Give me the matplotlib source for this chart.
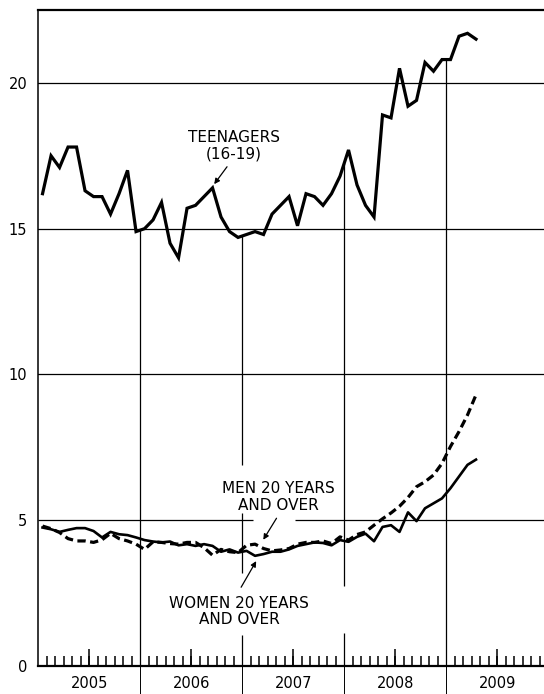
import numpy as np
import matplotlib.pyplot as plt

# monthly unemployment rates, Jan 2005 - Apr 2009
years = ["2005", "2006", "2007", "2008", "2009"]
teenagers = [16.2, 17.5, 17.1, 17.8, 17.8, 16.3, 16.1, 16.1, 15.5, 16.2, 17.0, 14.9,
             15.0, 15.3, 15.9, 14.5, 14.0, 15.7, 15.8, 16.1, 16.4, 15.4, 14.9, 14.7,
             14.8, 14.9, 14.8, 15.5, 15.8, 16.1, 15.1, 16.2, 16.1, 15.8, 16.2, 16.8,
             17.7, 16.5, 15.8, 15.4, 18.9, 18.8, 20.5, 19.2, 19.4, 20.7, 20.4, 20.8,
             20.8, 21.6, 21.7, 21.5]
men = [4.8, 4.71, 4.58, 4.37, 4.29, 4.29, 4.24, 4.33, 4.55, 4.37, 4.29, 4.18,
       4.0, 4.26, 4.24, 4.2, 4.18, 4.24, 4.24, 4.06, 3.8, 4.0, 3.92, 3.89,
       4.14, 4.18, 4.03, 3.95, 3.98, 4.03, 4.18, 4.24, 4.24, 4.29, 4.2, 4.43,
       4.32, 4.51, 4.6, 4.83, 5.05, 5.25, 5.48, 5.78, 6.15, 6.32, 6.55, 6.95,
       7.53, 8.04, 8.61, 9.3]
women = [4.75, 4.69, 4.6, 4.67, 4.73, 4.73, 4.63, 4.41, 4.6, 4.52, 4.49, 4.41,
         4.32, 4.27, 4.24, 4.27, 4.14, 4.18, 4.12, 4.18, 4.12, 3.92, 4.0, 3.89,
         3.95, 3.78, 3.84, 3.92, 3.92, 4.0, 4.12, 4.18, 4.24, 4.22, 4.14, 4.32,
         4.26, 4.43, 4.54, 4.28, 4.77, 4.83, 4.6, 5.27, 4.97, 5.41, 5.58, 5.75,
         6.1, 6.5, 6.9, 7.08]

months = np.arange(len(teenagers)) + 0.5  # month centres, 0 = start of Jan 2005
n_months = 59.5

plt.rcParams["font.family"] = "DejaVu Sans"
fig = plt.figure(figsize=(5.44, 6.94), dpi=100)
ax = fig.add_axes([0.0704, 0.0403, 0.9296, 0.9453])
ax.set_xlim(0, n_months)
ax.set_ylim(0, 22.5)

# horizontal rules (the 5 rule is broken under the men label arrow)
for v in [10, 15, 20]:
    ax.axhline(v, color="k", lw=0.9, zorder=1)
ax.hlines([5, 5], [0, 30.2], [25.3, n_months], color="k", lw=0.9, zorder=1)

# year dividers run up to the teenager line, with gaps around labels
gaps = {24: [(1.05, 3.2), (5.25, 6.9)], 36: [(1.15, 2.75)]}
for b in [12, 24, 36, 48]:
    top = np.interp(b, months, teenagers)
    lo = 0
    for g0, g1 in gaps.get(b, []):
        ax.vlines(b, lo, g0, color="k", lw=0.9, zorder=1)
        lo = g1
    ax.vlines(b, lo, top, color="k", lw=0.9, zorder=1)

ax.plot(months, teenagers, color="k", lw=2.3, solid_joinstyle="miter", zorder=3)
ax.plot(months, women, color="k", lw=1.9, zorder=3)
ax.plot(months, men, color="k", lw=2.3, dashes=(2.6, 1.4), zorder=3)

# labels
lbl = dict(ha="center", va="center", fontsize=11, linespacing=1.1)
arw = dict(arrowstyle="-|>", color="k", lw=0.9, mutation_scale=8)
ax.text(23.0, 17.85, "TEENAGERS\n(16-19)", **lbl)
ax.annotate("", xy=(20.5, 16.45), xytext=(22.4, 17.2), arrowprops=arw)
ax.text(28.2, 5.8, "MEN 20 YEARS\nAND OVER", **lbl)
ax.annotate("", xy=(26.3, 4.25), xytext=(28.2, 5.15), arrowprops=arw)
ax.text(23.6, 1.88, "WOMEN 20 YEARS\nAND OVER", **lbl)
ax.annotate("", xy=(25.8, 3.68), xytext=(23.7, 2.62), arrowprops=arw)

# axes styling
ax.spines["right"].set_visible(False)
ax.spines["top"].set_linewidth(1.6)
ax.spines["bottom"].set_linewidth(1.6)
ax.spines["left"].set_linewidth(1.1)

ax.set_yticks([0, 5, 10, 15, 20])
ax.tick_params(axis="y", length=0, pad=8, labelsize=10.5)

month_ticks = [m for m in range(1, 60) if m % 12 != 0]
ax.set_xticks([12, 24, 36, 48])
ax.set_xticklabels([])
ax.set_xticks(month_ticks, minor=True)
ax.tick_params(axis="x", which="major", direction="out", length=20, width=0.7)
ax.tick_params(axis="x", which="minor", direction="in", length=7, width=1.1)
mid_year = [m for m in month_ticks if m % 12 == 6]
ax.vlines(mid_year, 0, 17 / 656, transform=ax.get_xaxis_transform(), color="k", lw=1.1)

for i, yr in enumerate(years):
    ax.text(12 * i + 6, -0.026, yr, transform=ax.get_xaxis_transform(),
            ha="center", va="center", fontsize=10.5)

fig.savefig("out.png", dpi=100)
